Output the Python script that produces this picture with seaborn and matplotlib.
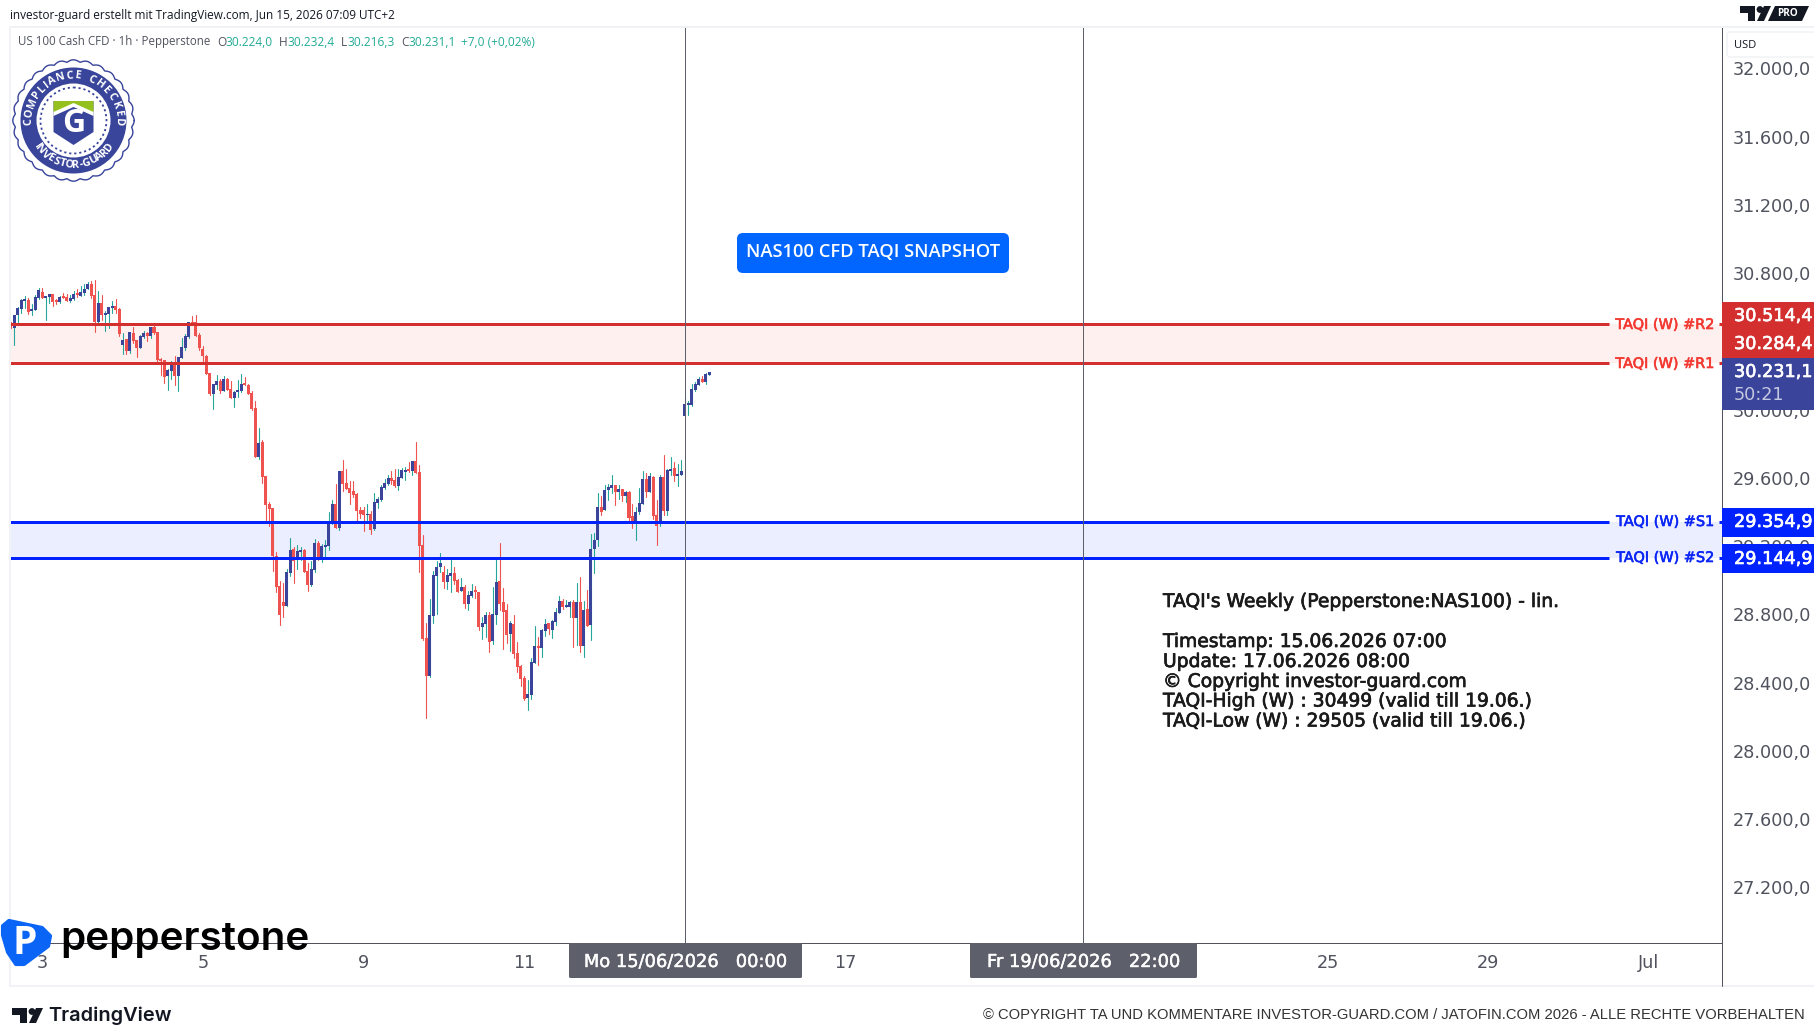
import numpy as np
import pandas as pd
import matplotlib
matplotlib.use("Agg")
import matplotlib.pyplot as plt
import matplotlib.patheffects as pe
from matplotlib.patches import Polygon, Circle, Rectangle, FancyBboxPatch
import seaborn as sns

sns.set_theme(style="white")
FONT = ["Open Sans", "DejaVu Sans"]
WIDE = ["DejaVu Sans"]
plt.rcParams["font.family"] = FONT

# ---------- data ----------
opens = [30512,30481,30555,30590,30639,30643,30578,30584,30654,30690,30656,30660,30678,30637,30631,30660,30660,30637,30648,30678,
30666,30684,30707,30736,30672,30514,30625,30555,30561,30596,30607,30590,30379,30414,30344,30449,30408,30361,30426,30449,
30432,30484,30455,30297,30291,30197,30227,30262,30197,30303,30361,30426,30514,30514,30438,30356,30315,30215,30092,30145,
30168,30109,30180,30121,30068,30104,30109,30150,30145,30098,30010,29723,29810,29611,29447,29423,29142,28966,28873,28849,
29043,29183,29119,29166,29177,29054,28972,29060,29218,29125,29195,29201,29330,29447,29306,29640,29570,29541,29523,29505,
29412,29412,29382,29388,29300,29453,29470,29541,29564,29599,29587,29552,29599,29634,29646,29640,29699,29634,29207,28662,
28439,28791,29025,29078,29048,28990,29025,29043,29002,28937,28961,28861,28908,28937,28931,28726,28744,28796,28644,28796,
28996,28873,28826,28685,28744,28574,28498,28427,28310,28328,28515,28615,28603,28703,28749,28708,28755,28808,28878,28843,
28843,28873,28779,28873,28615,28832,28738,29183,29236,29429,29412,29529,29540,29558,29517,29535,29494,29517,29376,29330,
29400,29447,29593,29517,29605,29382,29330,29605,29406,29642,29658,29611,29617,29962,30027,30027,30115,30144,30179,30162,30203]
highs = [30512,30555,30602,30648,30666,30654,30619,30672,30713,30713,30666,30678,30678,30648,30666,30684,30678,30672,30695,30707,
30725,30736,30748,30754,30760,30695,30672,30578,30602,30637,30648,30596,30449,30414,30455,30484,30408,30438,30461,30455,
30484,30496,30455,30303,30291,30238,30285,30315,30309,30420,30443,30514,30549,30555,30449,30373,30320,30215,30150,30203,
30180,30197,30186,30168,30109,30174,30209,30192,30150,30109,30051,29893,29822,29611,29459,29423,29166,28996,28984,29066,
29248,29195,29207,29195,29183,29101,29113,29242,29230,29212,29236,29400,29470,29564,29640,29705,29652,29582,29582,29511,
29429,29429,29447,29406,29511,29488,29558,29593,29617,29640,29652,29652,29658,29664,29693,29699,29810,29675,29265,28750,
28890,29054,29113,29160,29084,29066,29136,29078,29007,29013,28972,28937,28978,28966,28931,28785,28814,28814,28960,29130,
29218,28955,28861,28761,28796,28638,28503,28439,28416,28544,28732,28667,28714,28773,28749,28767,28837,28908,28890,28884,
28878,28884,28984,29019,28878,28943,29271,29277,29511,29494,29558,29564,29617,29558,29558,29535,29523,29523,29447,29429,
29540,29640,29628,29628,29611,29470,29617,29734,29652,29722,29693,29681,29704,30074,30050,30150,30162,30191,30197,30214,30220]
lows = [30477,30379,30496,30566,30596,30561,30555,30584,30648,30654,30525,30625,30607,30619,30625,30654,30637,30631,30643,30660,
30666,30672,30707,30654,30455,30502,30525,30461,30479,30566,30566,30432,30326,30326,30332,30391,30309,30361,30420,30402,
30420,30443,30279,30203,30156,30115,30180,30145,30109,30303,30350,30420,30498,30432,30350,30268,30209,30086,30004,30121,
30098,30109,30115,30068,30016,30074,30104,30145,30092,29998,29723,29711,29570,29341,29318,29054,28931,28738,28785,28849,
29025,28984,29066,29119,29048,28937,28966,29048,29119,29107,29136,29177,29330,29306,29295,29523,29535,29447,29488,29341,
29365,29289,29341,29271,29295,29423,29464,29535,29558,29564,29546,29529,29599,29587,29634,29617,29628,29048,28650,28193,
28433,28750,28802,29048,28955,28949,28931,28978,28931,28937,28837,28826,28902,28896,28709,28656,28667,28580,28626,28744,
28826,28597,28632,28585,28544,28462,28380,28298,28240,28304,28515,28503,28550,28673,28685,28662,28738,28808,28832,28843,
28785,28609,28621,28580,28550,28732,28650,29042,29201,29382,29412,29470,29511,29441,29476,29464,29458,29335,29306,29236,
29388,29447,29488,29517,29359,29206,29318,29382,29382,29617,29581,29552,29617,29962,29968,30021,30109,30144,30162,30150,30203]
closes = [30481,30555,30596,30643,30643,30574,30590,30660,30701,30654,30660,30678,30631,30631,30660,30654,30637,30654,30678,30672,
30690,30707,30736,30666,30514,30625,30555,30561,30602,30607,30584,30443,30408,30344,30455,30402,30361,30432,30449,30432,
30484,30449,30291,30285,30192,30233,30262,30197,30309,30367,30432,30514,30498,30432,30361,30315,30209,30092,30150,30168,
30109,30180,30115,30068,30104,30109,30150,30145,30092,30004,29723,29805,29607,29441,29418,29142,28961,28796,28849,29048,
29177,29113,29171,29171,29048,28972,29066,29218,29125,29201,29201,29336,29447,29306,29640,29564,29535,29511,29500,29406,
29388,29382,29388,29295,29459,29476,29546,29570,29599,29582,29552,29605,29646,29646,29640,29699,29628,29201,28656,28439,
28796,29031,29078,29101,28990,29031,29043,28996,28931,28961,28861,28914,28937,28931,28726,28749,28796,28638,28802,28990,
28861,28814,28679,28749,28568,28492,28421,28304,28333,28521,28615,28603,28708,28744,28714,28761,28814,28878,28843,28849,
28873,28779,28873,28615,28826,28732,29183,29236,29429,29400,29529,29546,29558,29517,29535,29494,29517,29365,29335,29400,
29453,29593,29517,29611,29376,29318,29605,29406,29646,29652,29611,29622,29640,30033,30033,30120,30150,30179,30162,30208,30220]

price_ticks = [32000,31600,31200,30800,30400,30000,29600,29200,28800,28400,28000,27600,27200]
price_tick_labels = ["32.000,0","31.600,0","31.200,0","30.800,0","30.400,0","30.000,0","29.600,0","29.200,0","28.800,0","28.400,0","28.000,0","27.600,0","27.200,0"]
date_tick_bars = [9,55,101,147,239,377,423,469]
date_tick_labels = ["3","5","9","11","17","25","29","Jul"]
marker_bars = [193,307]
res_levels = [30500,30271]
sup_levels = [29340,29129]
level_names = ["TAQI (W) #R2","TAQI (W) #R1","TAQI (W) #S1","TAQI (W) #S2"]
note_lines = ["TAQI's Weekly (Pepperstone:NAS100) - lin.","","Timestamp: 15.06.2026 07:00","Update: 17.06.2026 08:00",
              "\u00a9 Copyright investor-guard.com","TAQI-High (W) : 30499 (valid till 19.06.)","TAQI-Low (W) : 29505 (valid till 19.06.)"]

UP_BODY, UP_WICK, DOWN = "#39449a", "#26a69a", "#ef5350"
RED_LINE, BLUE_LINE = "#d32f2f", "#0022ff"
TICK = "#50535e"; TAG = "#5d606b"; FRAME = "#f0f2f5"

W, H = 1814, 1035
fig = plt.figure(figsize=(W/100, H/100), dpi=100, facecolor="white")
def px_lw(p): return p*0.72

L, R, T, B = 10.0, 1721.5, 27.0, 942.5
ax = fig.add_axes([L/W, 1-B/H, (R-L)/W, (B-T)/H])
ax.set_xlim(-0.229, 489.8)
ax.set_ylim(26877, 32242)

df = pd.DataFrame({"bar": np.arange(len(opens)), "o": opens, "h": highs, "l": lows, "c": closes})
df["dir"] = np.where(df.c >= df.o, "up", "down")
long = df.melt(id_vars=["bar", "dir"], value_vars=["l", "h"], value_name="price")

# wicks
sns.lineplot(data=long, x="bar", y="price", units="bar", estimator=None, hue="dir",
             palette={"up": UP_WICK, "down": DOWN}, legend=False, lw=px_lw(1.1), ax=ax, zorder=3)
# bodies
for d, col in (("up", UP_BODY), ("down", DOWN)):
    s = df[df.dir == d]
    ax.bar(s.bar, (s.c - s.o).abs().clip(lower=9), bottom=s[["o", "c"]].min(axis=1), width=0.86,
           color=col, linewidth=0, zorder=4)

# zones and levels
ax.axhspan(res_levels[1], res_levels[0], color="#fef0ef", lw=0, zorder=1)
ax.axhspan(sup_levels[1], sup_levels[0], color="#ebeeff", lw=0, zorder=1)
gap_l, gap_r = 457.5, 489.0
for lv, col in [(v, RED_LINE) for v in res_levels] + [(v, BLUE_LINE) for v in sup_levels]:
    for a, b in ((-0.229, gap_l), (gap_r, 489.8)):
        sns.lineplot(x=[a, b], y=[lv, lv], color=col, lw=px_lw(3), ax=ax, zorder=5, solid_capstyle="butt")
for m in marker_bars:
    ax.axvline(m, color=TAG, lw=px_lw(1), zorder=6)

ax.set_xlabel(""); ax.set_ylabel("")
ax.grid(False)
for s in ("left", "top"):
    ax.spines[s].set_visible(False)
for s in ("right", "bottom"):
    ax.spines[s].set_color(TICK); ax.spines[s].set_linewidth(px_lw(1))
ax.yaxis.tick_right()
ax.set_yticks(price_ticks, price_tick_labels, family=WIDE)
ax.set_xticks(date_tick_bars, date_tick_labels, family=WIDE)
ax.tick_params(axis="y", length=0, pad=8.2, labelsize=12.7, labelcolor=TICK)
ax.tick_params(axis="x", length=0, pad=8.2, labelsize=12.7, labelcolor=TICK)

# ---------- pixel overlay for labels and furniture ----------
ov = fig.add_axes([0, 0, 1, 1], zorder=10)
ov.set_xlim(0, W); ov.set_ylim(H, 0); ov.axis("off"); ov.patch.set_alpha(0)

def txt(x, y, s, size=10, color="#131722", ha="left", va="center", weight="normal", family=None, stroke=0, **kw):
    t = ov.text(x, y, s, fontsize=size, color=color, ha=ha, va=va, fontweight=weight,
                family=family or FONT, **kw)
    if stroke:
        t.set_path_effects([pe.withStroke(linewidth=stroke, foreground=color)])
    return t
def box(x0, y0, x1, y1, col, z=2):
    ov.add_patch(Rectangle((x0, y0), x1-x0, y1-y0, fc=col, ec="none", zorder=z))

# frame
ov.plot([10, W], [27, 27], color=FRAME, lw=px_lw(2))
ov.plot([10, 10], [27, 986], color=FRAME, lw=px_lw(2))
ov.plot([10, W], [986, 986], color=FRAME, lw=px_lw(2))
ov.plot([R, R], [942, 986], color=TICK, lw=px_lw(1))

# header
txt(10, 15, "investor-guard erstellt mit TradingView.com, Jun 15, 2026 07:09 UTC+2", 8.5)
txt(18, 42, "US 100 Cash CFD \u00b7 1h \u00b7 Pepperstone", 8.3, TICK)
GR = "#22ab94"
for lx, lab, vx, val in [(217,"O",225,"30.224,0"),(279,"H",287.5,"30.232,4"),(341,"L",347,"30.216,3"),(401,"C",408,"30.231,1")]:
    txt(lx, 42, lab, 8.6, TICK); txt(vx, 42, val, 8.6, GR)
txt(461, 42, "+7,0 (+0,02%)", 8.6, GR)

# USD box
ov.add_patch(FancyBboxPatch((1727, 32), 100, 25, boxstyle="round,pad=0,rounding_size=3", fc="white", ec=FRAME, lw=px_lw(1.5)))
txt(1734, 45, "USD", 8, "#131722")

# level labels
for (y, s, c) in [(325, level_names[0], "#f23a32"), (364, level_names[1], "#f23a32"),
                  (522, level_names[2], "#0b26f5"), (558, level_names[3], "#0b26f5")]:
    txt(1714, y, s, 10.4, c, ha="right", family=WIDE, stroke=0.45)

# price tags
box(R+0.5, 302, W, 358, RED_LINE)
box(R+0.5, 358, W, 410, UP_BODY)
box(R+0.5, 508, W, 537, "#0022ff")
box(R+0.5, 544, W, 573, "#0022ff")
for y, s, c in [(316, "30.514,4", "white"), (344, "30.284,4", "white"), (372, "30.231,1", "white"),
                (394.5, "50:21", "#c3c7e0"), (522, "29.354,9", "white"), (559, "29.144,9", "white")]:
    txt(1734, y, s, 12.7, c, family=WIDE, stroke=0.45 if c == "white" else 0)

# date tags
for x0, x1, s in [(569, 802, "Mo 15/06/2026   00:00"), (970, 1197, "Fr 19/06/2026   22:00")]:
    ov.add_patch(FancyBboxPatch((x0, 943), x1-x0, 35, boxstyle="round,pad=0,rounding_size=1.5", fc=TAG, ec="none", zorder=2))
    txt((x0+x1)/2, 962, s, 12.85, "white", ha="center", family=WIDE, stroke=0.3, zorder=3)

# snapshot button
ov.add_patch(FancyBboxPatch((737, 233), 272, 40, boxstyle="round,pad=0,rounding_size=6", fc="#0066ff", ec="none"))
txt(873, 252.5, "NAS100 CFD TAQI SNAPSHOT", 13.2, "white", ha="center", weight=600)

# note block
for y, s in zip([601.5, 621.5, 641.5, 661.5, 681.5, 701, 721], note_lines):
    if s:
        txt(1163, y, s, 13.47, "#1a1a1a", family=WIDE, stroke=0.5)

# footer
txt(1805, 1015, "\u00a9 COPYRIGHT TA UND KOMMENTARE INVESTOR-GUARD.COM / JATOFIN.COM 2026 - ALLE RECHTE VORBEHALTEN",
    10.63, "#333333", ha="right", family=["Liberation Sans"])

def tv_logo(x, y, s, col="#131722"):
    ov.add_patch(Polygon([(x, y), (x+15*s, y), (x+15*s, y+15*s), (x+8*s, y+15*s), (x+8*s, y+7*s), (x, y+7*s)], fc=col, ec="none"))
    ov.add_patch(Circle((x+20*s, y+3.5*s), 3.4*s, fc=col, ec="none"))
    ov.add_patch(Polygon([(x+24*s, y), (x+31*s, y), (x+24*s, y+15*s), (x+17*s, y+15*s)], fc=col, ec="none"))
tv_logo(12, 1008, 1)
txt(48, 1016, "TradingView", 14.4, "#131722", weight=600, family=["Inter", "DejaVu Sans"])
tv_logo(1740, 6, 1)
ov.add_patch(Polygon([(1775, 6), (1809, 6), (1802, 21), (1768, 21)], fc="#131722", ec="none"))
txt(1788, 13.7, "PRO", 7.2, "white", ha="center", weight="bold")

# pepperstone
shield = [(3, 926), (9, 921), (42, 928), (50, 936), (48, 946), (24, 964), (16, 964), (8, 952), (3, 935)]
ov.add_patch(Polygon(shield, fc="#0a64f5", ec="#0a64f5", lw=3, joinstyle="round", zorder=5))
txt(25, 943, "P", 28, "white", ha="center", weight="bold", family=["Open Sans"], zorder=6)
txt(60, 940, "pepperstone", 29.1, "black", weight=600, family=["Inter", "DejaVu Sans"], zorder=6)

# badge
BL = "#39459b"
cx, cy = 73.5, 120.5
th = np.linspace(0, 2*np.pi, 1200)
ov.plot(cx + (58.5+2.2*np.abs(np.cos(14*th)))*np.cos(th), cy + (58.5+2.2*np.abs(np.cos(14*th)))*np.sin(th), color=BL, lw=px_lw(1.4))
ov.add_patch(Circle((cx, cy), 53, fc=BL, ec="none"))
ov.add_patch(Circle((cx, cy), 37, fc="white", ec="none"))
ov.add_patch(Circle((cx, cy), 33, fc="none", ec=BL, lw=px_lw(1.8), ls=(0, (1.2, 1.6))))
ov.add_patch(Polygon([(53.5, 101), (93.5, 101), (93.5, 132), (73.5, 145), (53.5, 132)], fc=BL, ec="none"))
ov.add_patch(Polygon([(53.5, 110), (73.5, 101), (93.5, 110), (93.5, 116), (73.5, 107), (53.5, 116)], fc="white", ec="none"))
ov.add_patch(Polygon([(53.5, 101), (93.5, 101), (93.5, 112), (73.5, 103), (53.5, 112)], fc="#95c11f", ec="none"))
txt(73.5, 124, "G", 23, "white", ha="center", weight="bold")
ADV = {"I": 0.55, " ": 0.6, "-": 0.6, "M": 1.25, "L": 0.85, "E": 0.9, "P": 0.9, "T": 0.9, "S": 0.95, "R": 1.0}
def arc_text(s, a0, a1, r, top=True):
    adv = np.array([ADV.get(ch, 1.05) for ch in s])
    pos = np.cumsum(adv) - adv/2
    pos = pos/np.cumsum(adv)[-1]
    for ch, f in zip(s, pos):
        a = a0 + (a1-a0)*f
        rad = np.deg2rad(a)
        x, y = cx + r*np.cos(rad), cy - r*np.sin(rad)
        rot = a - 90 if top else a + 90
        ov.text(x, y, ch, fontsize=7.8, color="white", fontweight="bold", ha="center", va="center",
                rotation=rot, rotation_mode="anchor", family=FONT)
arc_text("COMPLIANCE CHECKED", 188, -8, 44.5, True)
arc_text("INVESTOR-GUARD", 212, 328, 44.5, False)

fig.savefig("out.png", dpi=100, facecolor="white")
